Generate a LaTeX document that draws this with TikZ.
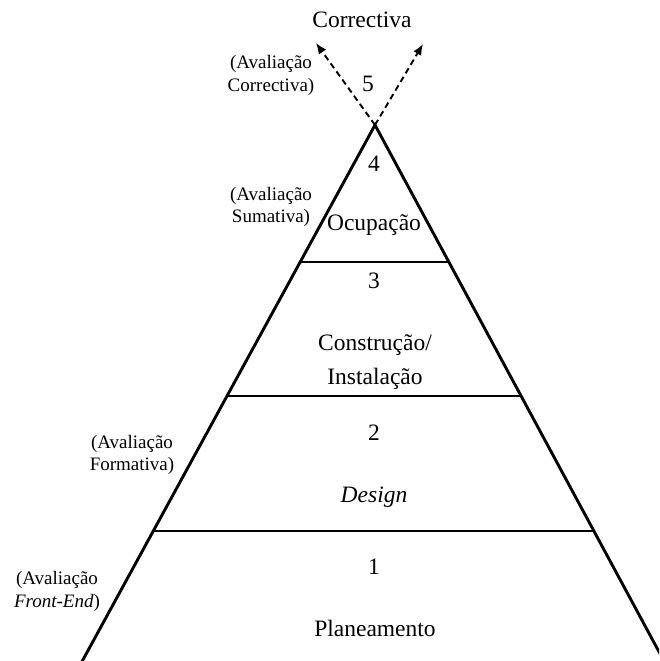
\documentclass[tikz,border=0pt]{standalone}
\usepackage{fontspec}
\setmainfont{Liberation Serif}
\usetikzlibrary{arrows.meta}
\begin{document}
\begin{tikzpicture}[x=1pt,y=-1pt,
  side/.style={line width=2.9pt},
  level/.style={line width=2.9pt},
  dasharrow/.style={line width=1.9pt, dash pattern=on 6pt off 4pt, -{Latex[length=11pt,width=9pt]}},
  big/.style={font=\fontsize{23.5}{28}\selectfont, inner sep=0pt, anchor=base},
  small/.style={font=\fontsize{19}{23}\selectfont, inner sep=0pt, anchor=base}]
\useasboundingbox (0,0) rectangle (659,661);
\clip (0,0) rectangle (659,661);
% geometry
\coordinate (apex) at (375,125);
\coordinate (bl) at (61,700);
\coordinate (br) at (685,700);
\coordinate (l1l) at (300.2,262);
\coordinate (l1r) at (448.8,262);
\coordinate (l2l) at (227,396);
\coordinate (l2r) at (521,396);
\coordinate (l3l) at (153.3,531);
\coordinate (l3r) at (593.8,531);
\coordinate (tipl) at (316,43);
\coordinate (tipr) at (423,44);
% pyramid
\draw[side] (bl) -- (apex) -- (br);
\draw[level] (l1l) -- (l1r);
\draw[level] (l2l) -- (l2r);
\draw[level] (l3l) -- (l3r);
% dashed arrows
\draw[dasharrow] (apex) -- (tipl);
\draw[dasharrow] (apex) -- (tipr);
% main texts
\node[big] (corr) at (362,28) {Correctiva};
\node[big] (n5) at (368,92) {5};
\node[big] (n4) at (374,171) {4};
\node[big] (ocup) at (374,230) {Ocupação};
\node[big] (n3) at (374,288) {3};
\node[big] (cons) at (375,350) {Construção/};
\node[big] (inst) at (375,384) {Instalação};
\node[big] (n2) at (374,440) {2};
\node[big] (des) at (374,502) {\itshape Design};
\node[big] (n1) at (374,574) {1};
\node[big] (plan) at (375,636) {Planeamento};
% side labels
\node[small] (ac1) at (271,69) {(Avaliação};
\node[small] (ac2) at (271,91) {Correctiva)};
\node[small] (as1) at (271,200) {(Avaliação};
\node[small] (as2) at (271,222) {Sumativa)};
\node[small] (af1) at (132,448) {(Avaliação};
\node[small] (af2) at (132,470) {Formativa)};
\node[small] (ae1) at (57,584) {(Avaliação};
\node[small] (ae2) at (57,607) {\textit{Front-End})};
\end{tikzpicture}
\end{document}
